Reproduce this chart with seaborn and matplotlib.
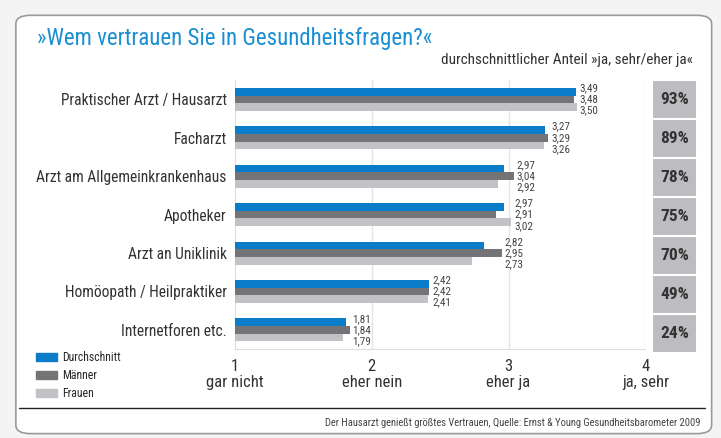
import pandas as pd
import seaborn as sns
import matplotlib.pyplot as plt
from matplotlib.patches import FancyBboxPatch
from matplotlib.lines import Line2D

categories = ["Praktischer Arzt / Hausarzt", "Facharzt", "Arzt am Allgemeinkrankenhaus",
              "Apotheker", "Arzt an Uniklinik", "Homöopath / Heilpraktiker", "Internetforen etc."]
durchschnitt = [3.49, 3.27, 2.97, 2.97, 2.82, 2.42, 1.81]
maenner = [3.48, 3.29, 3.04, 2.91, 2.95, 2.42, 1.84]
frauen = [3.50, 3.26, 2.92, 3.02, 2.73, 2.41, 1.79]
anteil = [93, 89, 78, 75, 70, 49, 24]
series = ["Durchschnitt", "Männer", "Frauen"]
tick_vals = [1, 2, 3, 4]
tick_labels = ["1\ngar nicht", "2\neher nein", "3\neher ja", "4\nja, sehr"]

colors = ["#0a7cc8", "#747476", "#c2c2c6"]

df = pd.DataFrame({"Kategorie": categories * 3,
                   "Wert": durchschnitt + maenner + frauen,
                   "Gruppe": [s for s in series for _ in categories]})

sns.set_style("white")
plt.rcParams["font.family"] = ["Roboto Condensed", "Liberation Sans Narrow",
                               "Liberation Sans", "DejaVu Sans"]

fig = plt.figure(figsize=(7.21, 4.38), dpi=100)
fig.patch.set_facecolor("#f4f4f4")

# card background
card = FancyBboxPatch((0.022, 0.01), 0.965, 0.955, boxstyle="round,pad=0,rounding_size=0.02",
                      transform=fig.transFigure, facecolor="white", edgecolor="#9a9a9a",
                      linewidth=1.2, zorder=-1)
fig.patches.append(card)

ax = fig.add_axes([0.326, 0.203, 0.569, 0.614])
sns.barplot(data=df, y="Kategorie", x="Wert", hue="Gruppe", palette=colors,
            orient="h", width=0.6, ax=ax, legend=False, saturation=1, zorder=3,
            linewidth=0)
ax.set_xlim(1, 4)
ax.set_ylim(6.5, -0.5)
ax.set_xlabel("")
ax.set_ylabel("")
ax.set_xticks(tick_vals)
ax.set_xticklabels(tick_labels, fontsize=12, color="#333333", linespacing=1.1)
ax.tick_params(axis="y", labelsize=11.2, colors="#333333", length=0, pad=6)
ax.tick_params(axis="x", length=3, color="#cccccc", pad=4)
for x in tick_vals[1:]:
    ax.axvline(x, color="#e4e4e4", lw=1, zorder=0)
for s in ["top", "right"]:
    ax.spines[s].set_visible(False)
ax.spines["left"].set_color("#dddddd")
ax.spines["bottom"].set_color("#dddddd")

# value labels
for i in range(len(categories)):
    vals = [durchschnitt[i], maenner[i], frauen[i]]
    xm = max(vals) + 0.02
    for k, v in enumerate(vals):
        ax.text(xm, i + (k - 1) * 0.29, f"{v:.2f}".replace(".", ","), fontsize=8,
                va="center", ha="left", color="#444444", zorder=4,
                bbox=dict(facecolor="white", edgecolor="none", pad=0))

# percentage column
ax2 = fig.add_axes([0.904, 0.194, 0.063, 0.623], sharey=ax)
ax2.barh(range(len(categories)), [1] * len(categories), height=1, color="#bdbdc1",
         edgecolor="white", linewidth=1.5)
ax2.set_xlim(0, 1)
ax2.axis("off")
for i, p in enumerate(anteil):
    ax2.text(0.5, i, f"{p}%", ha="center", va="center", fontsize=12.5,
             fontweight="bold", color="#333333")

fig.text(0.052, 0.913, "»Wem vertrauen Sie in Gesundheitsfragen?«", fontsize=16.5,
         color="#1a8fd2", va="center")
fig.text(0.961, 0.862, "durchschnittlicher Anteil »ja, sehr/eher ja«", fontsize=11,
         color="#333333", ha="right", va="center")

handles = [plt.Rectangle((0, 0), 1, 1, color=c) for c in colors]
fig.legend(handles, series, loc="upper left", bbox_to_anchor=(0.042, 0.211), frameon=False,
           fontsize=8.5, handlelength=1.8, handleheight=0.7, handletextpad=0.4,
           labelspacing=0.42, borderpad=0)

fig.add_artist(Line2D([0.027, 0.978], [0.068, 0.068], transform=fig.transFigure,
                      color="#222222", lw=1))
fig.text(0.972, 0.035, "Der Hausarzt genießt größtes Vertrauen, Quelle: Ernst & Young Gesundheitsbarometer 2009",
         fontsize=7.6, color="#444444", ha="right", va="center")

fig.savefig("out.png", dpi=100, facecolor=fig.get_facecolor())
